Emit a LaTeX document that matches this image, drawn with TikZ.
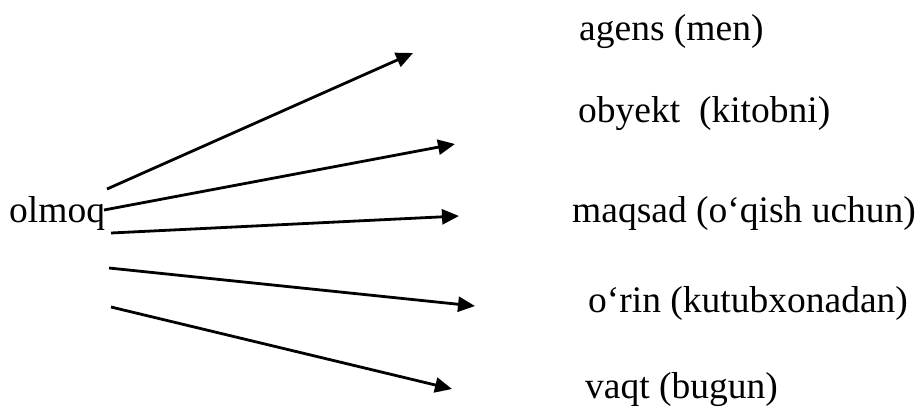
\documentclass[tikz,border=0pt]{standalone}
\usepackage{fontspec}
\setmainfont{Liberation Serif}
\usetikzlibrary{arrows.meta}
\begin{document}
\begin{tikzpicture}[x=1pt,y=-1pt,
  lbl/.style={anchor=base west,inner sep=0pt,font=\fontsize{37.5}{40}\selectfont},
  role/.style={line width=2.8pt,-{Triangle[length=17pt,width=15pt]}}]
\useasboundingbox (0,0) rectangle (915,410);
% verb
\node[lbl] (verb) at (9,222) {olmoq};
% semantic roles
\node[lbl] (agens)  at (579,40)  {agens (men)};
\node[lbl] (obyekt) at (578,122) {obyekt\ \ (kitobni)};
\node[lbl] (maqsad) at (572,222) {maqsad (o‘qish uchun)};
\node[lbl] (orin)   at (588,312) {o‘rin (kutubxonadan)};
\node[lbl] (vaqt)   at (585,398) {vaqt (bugun)};
% arrow ends
\coordinate (s1) at (107,189); \coordinate (e1) at (413,53);
\coordinate (s2) at (104,210); \coordinate (e2) at (455,144);
\coordinate (s3) at (111,233); \coordinate (e3) at (459,216);
\coordinate (s4) at (109,268); \coordinate (e4) at (475,306);
\coordinate (s5) at (111,307); \coordinate (e5) at (452,389);
\foreach \i in {1,...,5} \draw[role] (s\i) -- (e\i);
\end{tikzpicture}
\end{document}
